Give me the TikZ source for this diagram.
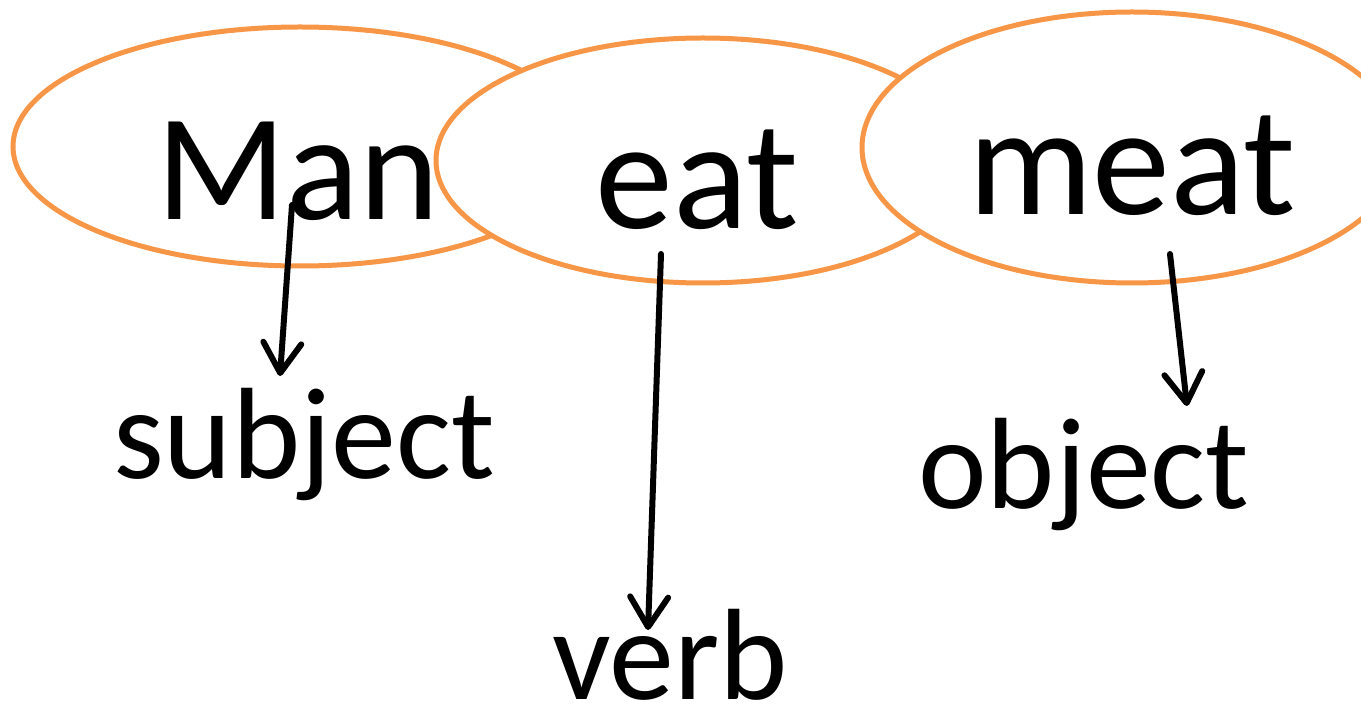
\documentclass[tikz,border=0pt]{standalone}
\usepackage{fontspec}
\setmainfont{Carlito}
\usetikzlibrary{shapes.geometric,arrows.meta}
\definecolor{ellorange}{HTML}{F79646}
\tikzset{
  bubble/.style={ellipse, draw=ellorange, line width=5pt, fill=white, inner sep=0pt},
  bigword/.style={anchor=base, inner sep=0pt, font=\fontsize{156}{160}\selectfont},
  roleword/.style={anchor=base, inner sep=0pt, font=\fontsize{130}{134}\selectfont},
  pointer/.style={line width=6pt, line cap=round, line join=round,
    -{Straight Barb[length=30pt,width=38pt,line width=6pt,line cap=round,line join=round]}}
}
\begin{document}
\begin{tikzpicture}[x=1pt,y=-1pt]
\useasboundingbox (0,0) rectangle (1361,708);
% ellipses with their words
\node[bubble, minimum width=574pt, minimum height=239pt] (e1) at (300,146.5) {};
\node[bigword, font=\fontsize{152}{156}\selectfont] (man) at (298,220) {Man};
\node[bubble, minimum width=534pt, minimum height=245pt] (e2) at (703,160.5) {};
\node[bigword] (eat) at (697,229) {eat};
\node[bubble, minimum width=540pt, minimum height=271pt] (e3) at (1132,147.5) {};
\node[bigword] (meat) at (1132,215) {meat};
% role labels
\node[roleword] (subj) at (304,479) {subject};
\node[roleword] (verb) at (670,699) {verb};
\node[roleword] (obj) at (1084,508) {object};
% arrow end points
\coordinate (s1) at (292,205);
\coordinate (t1) at (280,376);
\coordinate (s2) at (661,254);
\coordinate (t2) at (648,630);
\coordinate (s3) at (1170,254);
\coordinate (t3) at (1187,406);
\draw[pointer] (s1) -- (t1);
\draw[pointer] (s2) -- (t2);
\draw[pointer] (s3) -- (t3);
\end{tikzpicture}
\end{document}
